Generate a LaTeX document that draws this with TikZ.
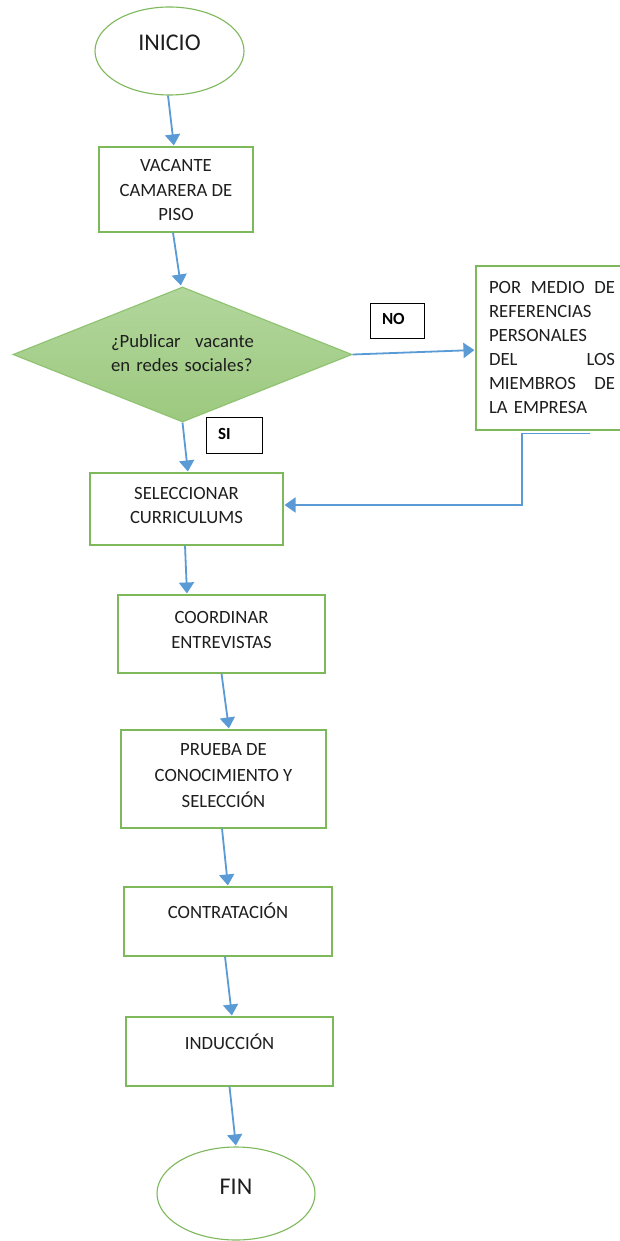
\documentclass[tikz,border=0pt]{standalone}
\usepackage{fontspec}
\setmainfont{Carlito}
\usetikzlibrary{shapes.geometric,arrows.meta,calc}
\definecolor{bordergreen}{HTML}{7DB85A}
\definecolor{diatop}{HTML}{B2D69C}
\definecolor{diabot}{HTML}{9CC97F}
\definecolor{diadraw}{HTML}{8DC26F}
\definecolor{arrowblue}{HTML}{5B9BD5}
\definecolor{txtc}{HTML}{1E1E1E}
\tikzset{
  box/.style={draw=bordergreen, line width=1.1pt, rectangle, inner sep=4pt, align=center, text=txtc, font=\fontsize{18.7}{24.5}\selectfont, text height=12pt},
  term/.style={draw=bordergreen, line width=1.1pt, ellipse, inner sep=4pt, text=txtc, font=\fontsize{24}{29}\selectfont, text height=15.5pt},
  flow/.style={draw=arrowblue, line width=1.8pt, -{Triangle[width=15pt,length=11pt]}, shorten >=1pt},
  tag/.style={draw=black, line width=0.9pt, rectangle, inner xsep=12pt, inner ysep=3pt, align=left, text=black, font=\fontsize{17}{20}\selectfont\bfseries, text height=11pt, text depth=3pt},
}
\begin{document}
\begin{tikzpicture}[x=1pt,y=-1pt]
\path[use as bounding box, fill=white] (0,0) rectangle (620,1241);

\node[term, minimum width=149pt, minimum height=88pt, text depth=16pt] (ini) at (169.5,51) {INICIO};
\node[box, minimum width=154pt, minimum height=85pt, text height=63pt, text depth=0pt] (vac) at (176,189.5) {VACANTE\\CAMARERA DE\\PISO};
\node[diamond, draw=diadraw, line width=1.1pt, top color=diatop, bottom color=diabot, aspect=2.51, minimum width=339pt, minimum height=135pt, inner sep=0pt, text width=143pt, align=left, text=txtc, font=\fontsize{18.7}{24}\selectfont, text height=12pt, text depth=27pt] (dec) at (182.5,354.5) {¿Publicar\hfill vacante\\en redes sociales?};
\node[box, minimum width=152pt, minimum height=164pt, text width=126pt, align=left, inner xsep=0pt, font=\fontsize{18.7}{24}\selectfont, text depth=122pt] (ref) at (552,348) {POR\hfill MEDIO\hfill DE\\REFERENCIAS\\PERSONALES\\DEL\hfill LOS\\MIEMBROS\hfill DE\\LA EMPRESA};
\node[tag, text width=30pt, minimum height=35pt] (no) at (397,320.5) {NO};
\node[tag, text width=32pt, minimum height=36pt] (si) at (234,435) {SI};
\node[box, minimum width=193pt, minimum height=72pt, font=\fontsize{18.7}{24}\selectfont, text height=28pt, text depth=0pt] (sel) at (186.5,509) {SELECCIONAR\\CURRICULUMS};
\node[box, minimum width=207pt, minimum height=78pt, font=\fontsize{18.7}{25}\selectfont, text height=28pt, text depth=0pt] (coo) at (221.5,634) {COORDINAR\\ENTREVISTAS};
\node[box, minimum width=205pt, minimum height=98pt, font=\fontsize{18.7}{26}\selectfont, text height=57pt, text depth=0pt] (pru) at (223.5,779) {PRUEBA DE\\CONOCIMIENTO Y\\SELECCIÓN};
\node[box, minimum width=208pt, minimum height=69pt, text depth=18pt] (con) at (228,921.5) {CONTRATACIÓN};
\node[box, minimum width=207pt, minimum height=69pt, text depth=17pt] (ind) at (229.5,1051.5) {INDUCCIÓN};
\node[term, minimum width=158pt, minimum height=93pt, text depth=13pt] (fin) at (236,1193.5) {FIN};

\draw[flow] ([xshift=-1.5pt]ini.south) -- ([xshift=-2pt]vac.north);
\draw[flow] ([xshift=-3pt]vac.south) -- ([xshift=-1.5pt]dec.north);
\draw[flow] (dec.south) -- ([xshift=1.5pt]sel.north);
\draw[flow] ([xshift=-1.5pt]sel.south) -- ([xshift=-34.5pt]coo.north);
\draw[flow] (coo.south) -- ([xshift=5.5pt]pru.north);
\draw[flow] ([xshift=-1.5pt]pru.south) -- (con.north);
\draw[flow] ([xshift=-3pt]con.south) -- ([xshift=2.5pt]ind.north);
\draw[flow] (ind.south) -- (fin.north);
\draw[flow] (dec.east) -- ([yshift=-2pt]ref.west);
\coordinate (r0) at ([xshift=37.5pt,yshift=-3pt]ref.south);
\coordinate (r1) at ([xshift=-30pt,yshift=-3pt]ref.south);
\draw[flow] (r0) -- (r1) |- ([yshift=4pt]sel.east);
\end{tikzpicture}
\end{document}
